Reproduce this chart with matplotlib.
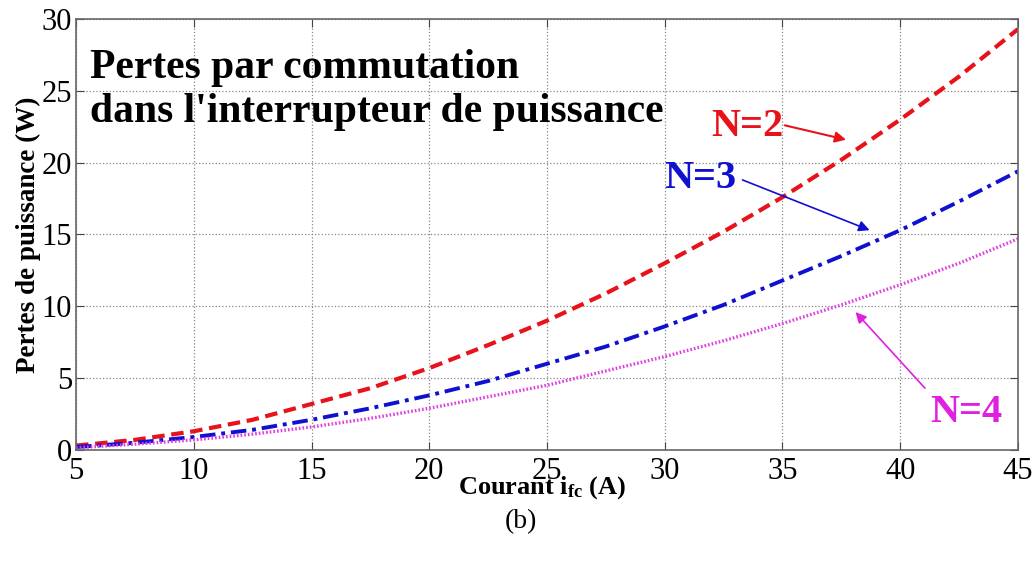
import matplotlib.pyplot as plt
import numpy as np

# courant i_fc (A)
courant = [5, 7.5, 10, 12.5, 15, 17.5, 20, 22.5, 25, 27.5, 30, 32.5, 35, 37.5, 40, 42.5, 45]

# pertes par commutation (W)
pertes_n2 = [0.3, 0.7, 1.3, 2.1, 3.2, 4.3, 5.7, 7.3, 9.0, 10.9, 13.0, 15.2, 17.6, 20.2, 23.0, 26.0, 29.3]
pertes_n3 = [0.2, 0.5, 0.9, 1.4, 2.1, 2.9, 3.8, 4.8, 6.0, 7.2, 8.6, 10.1, 11.8, 13.5, 15.3, 17.3, 19.4]
pertes_n4 = [0.15, 0.4, 0.7, 1.1, 1.6, 2.2, 2.9, 3.7, 4.5, 5.5, 6.5, 7.6, 8.8, 10.1, 11.5, 13.0, 14.7]

xticks = [5, 10, 15, 20, 25, 30, 35, 40, 45]
yticks = [0, 5, 10, 15, 20, 25, 30]

plt.rcParams['font.family'] = ['Liberation Serif', 'DejaVu Serif']
plt.rcParams['mathtext.fontset'] = 'custom'
plt.rcParams['mathtext.rm'] = 'Liberation Serif:bold'
plt.rcParams['mathtext.it'] = 'Liberation Serif:bold'

fig = plt.figure(figsize=(10.36, 5.61), dpi=100)
ax = fig.add_axes([0.0734, 0.198, 0.9092, 0.768])

ax.plot(courant, pertes_n2, color='#e8121a', linestyle=(0, (3, 1.6)), linewidth=3.0)
ax.plot(courant, pertes_n3, color='#1010d0', linestyle=(0, (4, 1.5, 1, 1.5)), linewidth=2.8)
ax.plot(courant, pertes_n4, color='#e040e0', linestyle=(0, (0.5, 0.6)), linewidth=2.4)

ax.set_xlim(5, 45)
ax.set_ylim(0, 30)
ax.set_xticks(xticks)
ax.set_yticks(yticks)
ax.tick_params(direction='in', top=True, right=True, labelsize=22, length=6, color='#444444')
ax.tick_params(axis='x', pad=5)
ax.tick_params(axis='y', pad=3)
ax.grid(True, linestyle=':', color='#888888', linewidth=0.9)
for s in ax.spines.values():
    s.set_color('#666666')
    s.set_linewidth(1.2)

ax.text(5.6, 27.9, "Pertes par commutation\ndans l'interrupteur de puissance",
        fontsize=30, fontweight='bold', va='top', ha='left', linespacing=1.2)

ax.set_ylabel('Pertes de puissance (W)', fontsize=19.5, fontweight='bold', labelpad=0)
fig.text(0.523, 0.131, r'Courant i$_{\mathrm{fc}}$ (A)', fontsize=19, fontweight='bold',
         ha='center', va='center')
fig.text(0.503, 0.07, '(b)', fontsize=20, ha='center', va='center')

# étiquettes N et flèches
labels = ['N=2', 'N=3', 'N=4']
colors = ['#e8121a', '#1010d0', '#e020e0']
text_pos = [(33.5, 22.55), (31.5, 18.9), (42.8, 2.6)]
arrow_tail = [(35.1, 22.6), (33.3, 18.8), (41.05, 4.3)]
arrow_head = [(37.7, 21.6), (38.7, 15.3), (38.1, 9.6)]
arrow_lw = [1.5, 1.2, 1.2]

for lab, c, tp, tail, head, lw in zip(labels, colors, text_pos, arrow_tail, arrow_head, arrow_lw):
    ax.text(tp[0], tp[1], lab, color=c, fontsize=29, fontweight='bold', ha='center', va='center')
    ax.annotate('', xy=head, xytext=tail,
                arrowprops=dict(arrowstyle='-|>', color=c, lw=lw, mutation_scale=16,
                                shrinkA=0, shrinkB=0))

fig.savefig('out.png', dpi=100)
